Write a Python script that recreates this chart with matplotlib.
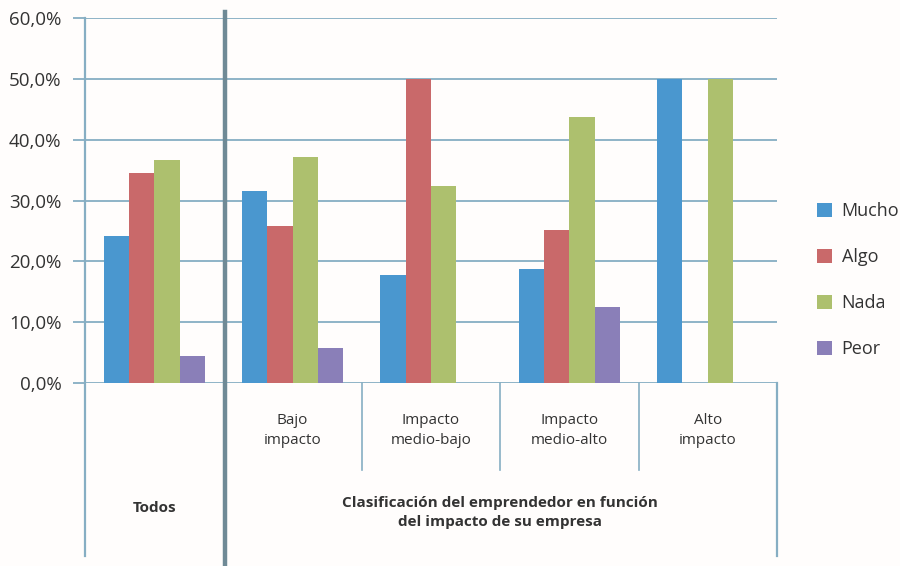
import matplotlib
matplotlib.use("Agg")
import matplotlib.pyplot as plt
import numpy as np
from matplotlib.lines import Line2D

plt.rcParams['font.family'] = ['Open Sans', 'DejaVu Sans']

# Data
categories = ["Todos", "Bajo\nimpacto", "Impacto\nmedio-bajo", "Impacto\nmedio-alto", "Alto\nimpacto"]
series_names = ["Mucho", "Algo", "Nada", "Peor"]
mucho = [24.2, 31.5, 17.8, 18.7, 50.0]
algo = [34.5, 25.8, 50.0, 25.1, 0.0]
nada = [36.7, 37.2, 32.4, 43.8, 50.0]
peor = [4.5, 5.7, 0.0, 12.5, 0.0]
yticks = [0, 10, 20, 30, 40, 50, 60]
group_title = "Clasificación del emprendedor en función\ndel impacto de su empresa"

colors = ["#4A97CF", "#C9696A", "#ADC06E", "#8A7FB8"]
grid_c = "#86AEC3"
divider_c = "#6F8A96"
text_c = "#333333"

fig = plt.figure(figsize=(9, 5.66), dpi=100)
fig.patch.set_facecolor("#FFFDFC")
ax = fig.add_axes([85 / 900, 1 - 383 / 566, 692 / 900, 365 / 566])
ax.set_facecolor("none")

x = np.arange(len(categories))
w = 0.183
for i, (vals, name) in enumerate(zip([mucho, algo, nada, peor], series_names)):
    ax.bar(x + (i - 1.5) * w, vals, width=w, color=colors[i], label=name, zorder=3)

ax.set_xlim(-0.5, len(categories) - 0.5)
ax.set_ylim(0, 60)
ax.set_yticks(yticks)
ax.set_yticklabels([f"{t:.1f}%".replace(".", ",") for t in yticks], fontsize=13.5, color=text_c)
ax.tick_params(axis="y", length=9, width=1.3, color=grid_c, pad=8)
ax.set_xticks([])
ax.yaxis.grid(True, color=grid_c, linewidth=1.3, zorder=1)
for s in ax.spines.values():
    s.set_visible(False)

# Frame lines of the table below the axis
bt = ax.get_xaxis_transform()
def vline(xd, y0, y1, **kw):
    ax.add_line(Line2D([xd, xd], [y0, y1], transform=bt, clip_on=False, **kw))

vline(-0.5, -0.474, 1.0, color=grid_c, lw=1.6, zorder=2)
vline(4.5, -0.474, 0.0, color=grid_c, lw=1.6, zorder=2)
vline(1.5, -0.238, 0.0, color=grid_c, lw=1.2, zorder=2)
vline(2.5, -0.238, 0.0, color=grid_c, lw=1.2, zorder=2)
vline(3.5, -0.238, 0.0, color=grid_c, lw=1.2, zorder=2)
vline(0.51, -0.505, 1.016, color=divider_c, lw=3.2, zorder=4)

# Category labels
for xi, lab in zip(x[1:], categories[1:]):
    ax.text(xi, -0.13, lab, transform=bt, ha="center", va="center",
            fontsize=11, color=text_c, linespacing=1.5)
ax.text(0, -0.343, categories[0], transform=bt, ha="center", va="center",
        fontsize=11, fontweight="bold", color=text_c)
ax.text(2.5, -0.356, group_title, transform=bt, ha="center", va="center",
        fontsize=11, fontweight="bold", color=text_c, linespacing=1.45)

# Legend
leg = fig.legend(loc="center left", bbox_to_anchor=(810 / 900, 1 - 280 / 566),
                 frameon=False, fontsize=13, handlelength=0.8, handleheight=0.8,
                 labelspacing=1.55, handletextpad=0.55, borderaxespad=0)
for t in leg.get_texts():
    t.set_color(text_c)

fig.savefig("out.png", dpi=100, facecolor=fig.get_facecolor())
